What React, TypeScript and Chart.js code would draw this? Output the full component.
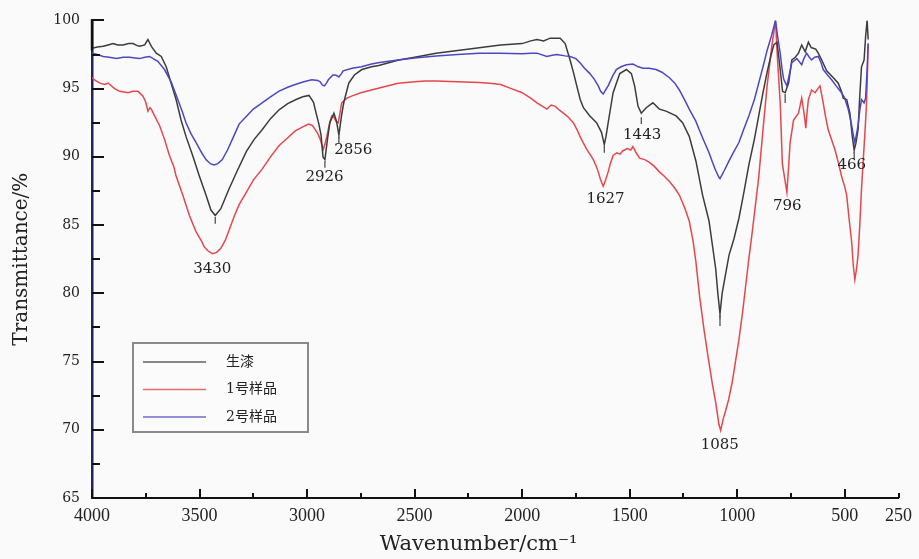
import React, { useEffect, useRef } from 'react';
import { Chart, registerables } from 'chart.js';
Chart.register(...registerables);

// [wavenumber cm-1, transmittance %]
const rawLacquer: [number, number][] = [
  [4000,97.96],[3975,98.05],[3948,98.1],[3925,98.2],[3902,98.3],[3880,98.2],[3855,98.2],[3830,98.3],[3809,98.3],[3790,98.15],
  [3778,98.1],[3755,98.2],[3740,98.6],[3724,98.1],[3701,97.6],[3678,97.36],[3655,96.6],[3632,95.4],[3609,94.2],[3586,92.7],
  [3563,91.5],[3532,90.1],[3501,88.6],[3470,87.2],[3447,86.1],[3427,85.7],[3401,86.2],[3363,87.65],[3324,89.0],[3282,90.4],
  [3245,91.3],[3208,92.0],[3170,92.8],[3130,93.45],[3090,93.9],[3051,94.2],[3020,94.4],[2991,94.5],[2970,94.0],[2958,93.2],
  [2945,92.4],[2935,91.6],[2926,90.0],[2917,89.8],[2905,91.3],[2894,92.5],[2875,93.2],[2863,92.6],[2852,91.6],[2840,93.0],
  [2829,94.0],[2806,95.4],[2780,96.0],[2745,96.4],[2700,96.6],[2667,96.7],[2620,96.9],[2574,97.1],[2500,97.3],[2400,97.6],
  [2300,97.8],[2200,98.0],[2100,98.2],[2000,98.3],[1960,98.5],[1931,98.6],[1900,98.5],[1870,98.7],[1823,98.7],[1800,98.3],
  [1777,97.1],[1760,96.1],[1746,95.2],[1730,94.2],[1715,93.6],[1685,93.0],[1654,92.5],[1631,91.8],[1618,90.9],[1610,91.5],
  [1600,92.5],[1577,94.7],[1546,96.1],[1515,96.4],[1492,96.1],[1477,95.2],[1461,93.7],[1446,93.2],[1423,93.6],[1392,93.96],
  [1362,93.5],[1331,93.35],[1284,93.0],[1254,92.5],[1223,91.5],[1192,89.7],[1161,87.2],[1131,85.3],[1100,81.8],[1090,80.0],
  [1080,78.5],[1070,80.0],[1054,81.4],[1038,82.8],[1015,84.0],[992,85.5],[970,87.3],[946,89.4],[920,91.3],[900,93.0],
  [880,94.7],[861,96.2],[845,97.3],[830,98.2],[815,98.4],[808,97.5],[800,96.4],[789,94.8],[777,94.7],[761,95.4],
  [746,97.1],[730,97.3],[715,97.6],[700,98.2],[684,97.7],[669,98.4],[656,98.0],[646,97.96],[635,97.9],[623,97.6],
  [607,97.1],[584,96.3],[565,96.0],[553,95.8],[530,95.4],[515,94.8],[507,94.3],[491,94.2],[476,93.2],[465,91.5],
  [456,90.5],[448,91.0],[438,92.0],[430,94.5],[422,96.6],[410,97.1],[403,98.8],[396,100],[391,98.6]
];

const rawSample1: [number, number][] = [
  [4000,95.8],[3985,95.6],[3963,95.4],[3940,95.3],[3925,95.4],[3917,95.3],[3895,95.0],[3871,94.8],[3850,94.75],[3832,94.7],
  [3810,94.8],[3786,94.8],[3763,94.45],[3750,94.0],[3740,93.35],[3730,93.6],[3724,93.5],[3709,93.0],[3686,92.3],[3663,91.3],
  [3640,90.1],[3620,89.3],[3609,88.6],[3578,87.2],[3547,85.7],[3516,84.5],[3490,83.8],[3478,83.4],[3460,83.1],[3440,82.9],
  [3420,83.0],[3401,83.3],[3380,83.9],[3363,84.6],[3340,85.6],[3316,86.5],[3286,87.3],[3250,88.3],[3209,89.1],[3170,90.0],
  [3132,90.8],[3090,91.4],[3055,91.9],[3020,92.2],[2993,92.4],[2975,92.3],[2962,92.0],[2950,91.7],[2939,91.3],[2930,90.8],
  [2924,90.56],[2916,91.0],[2908,91.5],[2895,92.5],[2885,93.0],[2875,92.9],[2865,92.6],[2855,92.5],[2847,93.2],[2839,93.96],
  [2815,94.3],[2793,94.45],[2750,94.7],[2701,94.9],[2650,95.1],[2577,95.4],[2500,95.5],[2450,95.55],[2400,95.55],[2300,95.5],
  [2200,95.45],[2150,95.4],[2100,95.3],[2050,95.0],[2000,94.7],[1960,94.3],[1931,93.96],[1885,93.5],[1865,93.8],[1846,93.7],
  [1825,93.4],[1808,93.2],[1785,92.9],[1762,92.5],[1745,92.0],[1731,91.5],[1715,91.0],[1700,90.56],[1685,90.2],[1669,89.8],
  [1655,89.3],[1646,88.9],[1635,88.3],[1623,87.85],[1612,88.3],[1600,88.9],[1590,89.5],[1577,90.1],[1560,90.3],[1545,90.2],
  [1531,90.45],[1510,90.6],[1495,90.5],[1485,90.75],[1470,90.3],[1454,89.9],[1430,89.8],[1408,89.6],[1385,89.3],[1362,88.9],
  [1340,88.6],[1315,88.2],[1290,87.7],[1269,87.2],[1245,86.3],[1223,85.3],[1205,83.8],[1192,82.3],[1175,79.8],[1154,77.3],
  [1135,75.3],[1115,73.3],[1100,72.0],[1085,70.4],[1077,69.95],[1065,70.8],[1054,71.4],[1040,72.2],[1023,73.5],[1008,75.0],
  [992,76.6],[975,78.6],[961,80.5],[946,82.5],[930,84.5],[915,86.5],[900,88.5],[880,92.0],[861,95.2],[840,98.0],
  [822,100],[812,97.0],[800,93.96],[790,89.5],[784,88.9],[775,88.0],[769,87.4],[760,89.5],[754,91.05],[738,92.7],
  [715,93.2],[700,94.3],[692,93.5],[686,92.8],[681,92.1],[675,93.3],[669,94.2],[654,94.9],[638,94.7],[625,95.0],
  [615,95.2],[600,93.96],[590,93.0],[577,92.0],[560,91.2],[546,90.56],[530,89.6],[515,88.6],[500,87.8],[491,87.2],
  [480,85.5],[468,83.8],[460,82.0],[453,81.0],[445,81.8],[438,82.8],[430,85.0],[422,87.65],[415,89.5],[407,91.5],
  [400,93.5],[396,95.2],[391,98.3]
];

const rawSample2: [number, number][] = [
  [4000,97.6],[3975,97.5],[3948,97.36],[3920,97.3],[3886,97.2],[3855,97.3],[3825,97.3],[3800,97.25],[3778,97.2],[3755,97.3],
  [3732,97.36],[3710,97.15],[3694,97.0],[3663,96.4],[3632,95.5],[3601,94.2],[3580,93.3],[3563,92.5],[3540,91.7],[3516,91.05],
  [3490,90.3],[3470,89.8],[3450,89.5],[3432,89.4],[3415,89.5],[3394,89.8],[3370,90.5],[3347,91.3],[3316,92.4],[3286,92.9],
  [3250,93.5],[3209,93.96],[3170,94.4],[3132,94.8],[3090,95.1],[3055,95.3],[3015,95.5],[2978,95.65],[2950,95.6],[2939,95.5],
  [2928,95.25],[2919,95.2],[2910,95.4],[2901,95.65],[2880,96.0],[2870,96.0],[2860,95.95],[2852,95.85],[2840,96.1],[2832,96.3],
  [2790,96.5],[2747,96.6],[2700,96.8],[2670,96.9],[2620,97.0],[2577,97.1],[2500,97.25],[2400,97.4],[2300,97.5],[2200,97.6],
  [2100,97.6],[2000,97.55],[1960,97.6],[1931,97.6],[1885,97.36],[1860,97.45],[1839,97.5],[1800,97.4],[1777,97.36],[1750,97.2],
  [1731,96.9],[1710,96.5],[1685,96.1],[1665,95.7],[1646,95.2],[1635,94.8],[1623,94.6],[1612,94.9],[1600,95.2],[1580,95.9],
  [1562,96.4],[1540,96.6],[1515,96.75],[1485,96.8],[1460,96.6],[1438,96.5],[1410,96.5],[1377,96.4],[1350,96.2],[1315,95.8],
  [1290,95.4],[1269,94.9],[1245,94.2],[1223,93.5],[1192,92.6],[1177,92.0],[1161,91.4],[1131,90.3],[1115,89.6],[1100,89.0],
  [1085,88.5],[1080,88.4],[1060,89.0],[1038,89.7],[1015,90.4],[992,91.05],[970,92.0],[946,93.0],[920,94.2],[900,95.4],
  [880,96.6],[861,97.8],[840,98.9],[822,100],[810,98.6],[800,97.6],[792,96.5],[784,95.7],[769,95.2],[758,96.0],
  [746,96.9],[723,97.2],[700,96.75],[690,97.2],[677,97.6],[665,97.3],[654,97.1],[640,97.3],[623,97.36],[610,96.9],
  [600,96.4],[580,96.0],[561,95.65],[540,95.2],[515,94.7],[500,94.3],[484,93.5],[470,92.5],[460,91.6],[453,91.05],
  [446,91.6],[438,92.3],[430,93.4],[422,94.2],[410,93.96],[403,94.3],[396,96.4],[391,98.3]
];

const seriesNames = ['生漆', '1号样品', '2号样品'];
const seriesColors = ['#3c3c3c', '#e4474d', '#4d47c2'];

const xTickValues = [4000,3750,3500,3250,3000,2750,2500,2250,2000,1750,1500,1250,1000,750,500,250];
const xTickLabels = ['4000','','3500','','3000','','2500','','2000','','1500','','1000','','500','250'];
const yTickValues = [65,67.5,70,72.5,75,77.5,80,82.5,85,87.5,90,92.5,95,97.5,100];
const yTickLabels = ['65','','70','','75','','80','','85','','90','','95','','100'];

// peak annotations: text, wavenumber, transmittance at label centre
const peakText = ['3430','2926','2856','1627','1443','1085','796','466'];
const peakWn = [3441, 2919, 2785, 1612, 1442, 1081, 767, 467];
const peakT = [81.8, 88.5, 90.47, 86.9, 91.56, 68.86, 86.4, 89.4];
// small peak marker stubs below the raw lacquer curve
const markWn = [3427, 2917, 2852, 1618, 1446, 1080, 777, 456];
const markTop = [85.6, 89.7, 91.5, 90.8, 92.9, 78.4, 94.6, 90.4];
const markBottom = [85.1, 89.2, 91.0, 90.3, 92.4, 77.6, 93.95, 89.9];

const serif = '"DejaVu Serif", "Liberation Serif", serif';
const cjk = '"DejaVu Serif", "Noto Sans CJK SC", sans-serif';

const decor = {
  id: 'decor',
  afterDraw(chart: any) {
    const { ctx, scales: { x, y } } = chart;
    const left = x.left;
    const bottom = y.bottom;
    ctx.save();
    // inward tick marks
    ctx.strokeStyle = '#111';
    ctx.lineWidth = 2;
    x.ticks.forEach((t: any) => {
      const px = Math.round(x.getPixelForValue(t.value));
      const len = t.value % 500 === 0 ? 9 : 5;
      ctx.beginPath();
      ctx.moveTo(px, bottom);
      ctx.lineTo(px, bottom - len);
      ctx.stroke();
    });
    y.ticks.forEach((t: any) => {
      const py = Math.round(y.getPixelForValue(t.value));
      const len = t.value % 5 === 0 ? 12 : 8;
      ctx.beginPath();
      ctx.moveTo(left, py);
      ctx.lineTo(left + len, py);
      ctx.stroke();
    });
    // black top of the y axis
    ctx.strokeStyle = '#111';
    ctx.lineWidth = 2.5;
    ctx.beginPath();
    ctx.moveTo(left, y.getPixelForValue(100) - 1);
    ctx.lineTo(left, y.getPixelForValue(97.8));
    ctx.stroke();

    // marker stubs
    ctx.strokeStyle = '#444';
    ctx.lineWidth = 1.2;
    markWn.forEach((w, i) => {
      const px = x.getPixelForValue(w);
      ctx.beginPath();
      ctx.moveTo(px, y.getPixelForValue(markTop[i]));
      ctx.lineTo(px, y.getPixelForValue(markBottom[i]));
      ctx.stroke();
    });

    // peak labels
    ctx.fillStyle = '#222';
    ctx.font = '15px ' + serif;
    ctx.textAlign = 'center';
    ctx.textBaseline = 'middle';
    peakText.forEach((s, i) => {
      ctx.fillText(s, x.getPixelForValue(peakWn[i]), y.getPixelForValue(peakT[i]));
    });

    // legend box
    const bx = 133, by = 343, bw = 175, bh = 89;
    ctx.strokeStyle = '#8a8a8a';
    ctx.lineWidth = 2;
    ctx.fillStyle = '#fbfbfb';
    ctx.fillRect(bx, by, bw, bh);
    ctx.strokeRect(bx, by, bw, bh);
    const rows = [362, 389.5, 417];
    chart.data.datasets.forEach((ds: any, i: number) => {
      ctx.strokeStyle = ds.borderColor;
      ctx.globalAlpha = 0.8;
      ctx.lineWidth = 1.5;
      ctx.beginPath();
      ctx.moveTo(143, rows[i]);
      ctx.lineTo(206, rows[i]);
      ctx.stroke();
      ctx.globalAlpha = 1;
      ctx.fillStyle = '#222';
      ctx.font = '14px ' + cjk;
      ctx.textAlign = 'left';
      ctx.textBaseline = 'middle';
      ctx.fillText(ds.label, 226, rows[i]);
    });
    ctx.restore();
  },
};

export default function App() {
  const ref = useRef<HTMLCanvasElement | null>(null);
  useEffect(() => {
    const canvas = ref.current;
    if (!canvas) return;
    const raws = [rawLacquer, rawSample1, rawSample2];
    const datasets = raws.map((r, i) => ({
      label: seriesNames[i],
      data: r.map(([wn, t]) => ({ x: wn, y: t })),
      borderColor: seriesColors[i],
      borderWidth: 1.5,
      pointRadius: 0,
      tension: 0,
      fill: false,
      order: i === 1 ? 3 : i === 0 ? 2 : 1,
    }));
    const chart = new Chart(canvas, {
      type: 'line',
      data: { datasets },
      plugins: [decor],
      options: {
        animation: false,
        responsive: false,
        devicePixelRatio: 1,
        layout: { padding: { top: 17, right: 15, left: 0, bottom: 0 } },
        plugins: { legend: { display: false }, tooltip: { enabled: false } },
        scales: {
          x: {
            type: 'linear',
            reverse: true,
            min: 250,
            max: 4000,
            afterBuildTicks: (s: any) => { s.ticks = xTickValues.map((v) => ({ value: v })); },
            afterFit: (s: any) => { s.height = 61; },
            grid: { display: false, drawTicks: false },
            border: { display: true, color: '#111', width: 2 },
            ticks: {
              autoSkip: false,
              maxRotation: 0,
              padding: 7,
              color: '#222',
              font: { family: '"Liberation Serif", serif', size: 18 },
              callback: (v: any) => { const k = xTickValues.indexOf(Number(v)); return k >= 0 ? xTickLabels[k] : ''; },
            },
            title: {
              display: true,
              text: 'Wavenumber/cm⁻¹     ',
              color: '#222',
              font: { family: serif, size: 21 },
              padding: { top: 0, bottom: 2 },
            },
          },
          y: {
            type: 'linear',
            min: 65,
            max: 100,
            afterBuildTicks: (s: any) => { s.ticks = yTickValues.map((v) => ({ value: v })); },
            afterFit: (s: any) => { s.width = 92; },
            grid: { display: false, drawTicks: false },
            border: { display: true, color: '#23235e', width: 2.5 },
            ticks: {
              autoSkip: false,
              padding: 12,
              color: '#222',
              font: { family: serif, size: 14 },
              callback: (v: any) => { const k = yTickValues.indexOf(Number(v)); return k >= 0 ? yTickLabels[k] : ''; },
            },
            title: {
              display: true,
              text: 'Transmittance/%',
              color: '#222',
              font: { family: serif, size: 20 },
              padding: { top: 10, bottom: 0 },
            },
          },
        },
      },
    } as any);
    return () => chart.destroy();
  }, []);
  return (
    <div style={{ position: 'fixed', left: 0, top: 0, width: 919, height: 559, background: '#fafafa' }}>
      <canvas ref={ref} width={919} height={559} style={{ width: 919, height: 559, display: 'block' }} />
    </div>
  );
}
